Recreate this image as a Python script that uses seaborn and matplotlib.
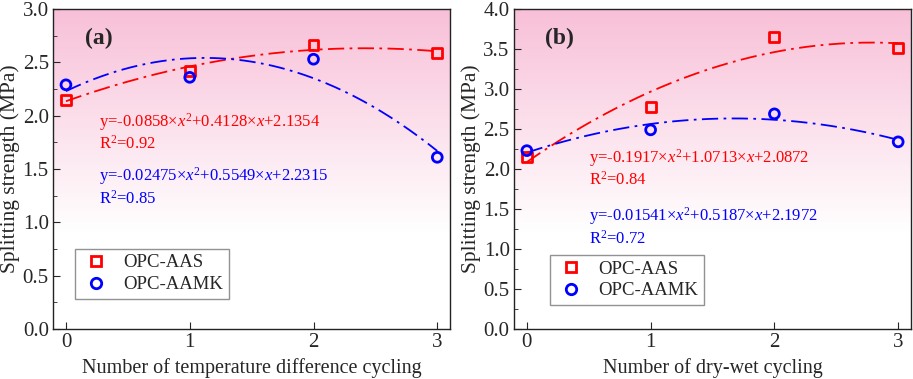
import numpy as np
import pandas as pd
import matplotlib
matplotlib.use("Agg")
import matplotlib.pyplot as plt
import seaborn as sns
from matplotlib.colors import LinearSegmentedColormap
from matplotlib.ticker import MultipleLocator, FormatStrFormatter
from matplotlib.lines import Line2D

cycles = [0, 1, 2, 3]

# (a) temperature difference cycling
aas_a = [2.15, 2.42, 2.66, 2.59]
aamk_a = [2.29, 2.36, 2.53, 1.61]
# (b) dry-wet cycling
aas_b = [2.15, 2.78, 3.65, 3.51]
aamk_b = [2.23, 2.49, 2.69, 2.34]

eq_a = [("y=-0.0858×$x^2$+0.4128×$x$+2.1354", "R$^2$=0.92"),
        ("y=-0.02475×$x^2$+0.5549×$x$+2.2315", "R$^2$=0.85")]
eq_b = [("y=-0.1917×$x^2$+1.0713×$x$+2.0872", "R$^2$=0.84"),
        ("y=-0.01541×$x^2$+0.5187×$x$+2.1972", "R$^2$=0.72")]

sns.set_style("ticks")
plt.rcParams['font.family'] = ['Liberation Serif', 'DejaVu Serif']
plt.rcParams['mathtext.fontset'] = 'custom'
plt.rcParams['mathtext.rm'] = 'Liberation Serif'
plt.rcParams['mathtext.it'] = 'Liberation Serif:italic'

fig, axes = plt.subplots(1, 2, figsize=(9.13, 3.79), dpi=100)
plt.subplots_adjust(left=0.058, right=0.998, top=0.976, bottom=0.132, wspace=0.16)

# pink-to-white background
pink = LinearSegmentedColormap.from_list("pk", ["#ffffff", "#f8c0d8"])
grad = np.clip((np.linspace(0, 1, 256) - 0.3) / 0.7, 0, 1)[:, None]

panels = [
    (axes[0], aas_a, aamk_a, eq_a, "(a)", 3.0, "Number of temperature difference cycling",
     [(0.27, 1.94, 1.74), (0.27, 1.43, 1.22)], 2.72, (0.055, 0.094)),
    (axes[1], aas_b, aamk_b, eq_b, "(b)", 4.0, "Number of dry-wet cycling",
     [(0.5, 2.14, 1.86), (0.5, 1.41, 1.13)], 3.63, (0.09, 0.075)),
]

xs = np.linspace(0, 3, 200)
for ax, aas, aamk, eqs, tag, ymax, xlabel, eqpos, tagy, legpos in panels:
    ax.imshow(grad, cmap=pink, aspect='auto', extent=[0, 1, 0, 1],
              transform=ax.transAxes, origin='lower', zorder=0)
    df = pd.DataFrame({"x": cycles * 2, "y": aas + aamk,
                       "group": ["OPC-AAS"] * 4 + ["OPC-AAMK"] * 4})
    sns.scatterplot(data=df, x="x", y="y", hue="group", style="group",
                    palette={"OPC-AAS": "red", "OPC-AAMK": "blue"},
                    markers={"OPC-AAS": "s", "OPC-AAMK": "o"},
                    s=50, linewidth=2, ax=ax, zorder=3, legend=False)
    # quadratic fit curves
    for vals, col in [(aas, "red"), (aamk, "blue")]:
        coef = np.polyfit(cycles, vals, 2)
        sns.lineplot(x=xs, y=np.polyval(coef, xs), color=col, lw=1.3,
                     linestyle=(0, (9, 3, 1.5, 3)), ax=ax, zorder=2)
    # hollow markers
    for coll in ax.collections:
        fc = coll.get_facecolors()
        if len(fc):
            coll.set_edgecolors(fc)
            coll.set_facecolors("none")
    ax.xaxis.set_major_locator(MultipleLocator(1))
    ax.yaxis.set_major_locator(MultipleLocator(0.5))
    ax.yaxis.set_minor_locator(MultipleLocator(0.25))
    ax.yaxis.set_major_formatter(FormatStrFormatter("%.1f"))
    ax.set_xlim(-0.105, 3.105)
    ax.set_ylim(0, ymax)
    ax.tick_params(direction='in', which='both', labelsize=15, top=False, right=False, pad=3)
    ax.tick_params(which='major', length=5)
    ax.tick_params(which='minor', length=3)
    ax.set_xlabel(xlabel, fontsize=14.5, labelpad=4)
    ax.set_ylabel("Splitting strength (MPa)", fontsize=15.5, labelpad=2)
    ax.text(0.15, tagy, tag, fontsize=17, fontweight='bold', va='center')
    for (tx, y1, y2), (t1, t2), col in zip(eqpos, eqs, ["red", "blue"]):
        ax.text(tx, y1, t1, color=col, fontsize=12, va='center')
        ax.text(tx, y2, t2, color=col, fontsize=12, va='center')
    for sp in ax.spines.values():
        sp.set_visible(True)
        sp.set_linewidth(1)
        sp.set_color("#222222")
    handles = [Line2D([], [], ls='none', marker='s', ms=7, mfc='none', mec='red', mew=2),
               Line2D([], [], ls='none', marker='o', ms=7.5, mfc='none', mec='blue', mew=2)]
    leg = ax.legend(handles, ["OPC-AAS", "OPC-AAMK"], loc='lower left', bbox_to_anchor=legpos,
                    fontsize=13.5, frameon=True, fancybox=False, edgecolor="#777777",
                    handletextpad=0.6, borderpad=0.3, labelspacing=0.25, handlelength=1.7,
                    borderaxespad=0)
    leg.get_frame().set_facecolor("white")
    leg.get_frame().set_linewidth(1)

fig.savefig("out.png", dpi=100)
